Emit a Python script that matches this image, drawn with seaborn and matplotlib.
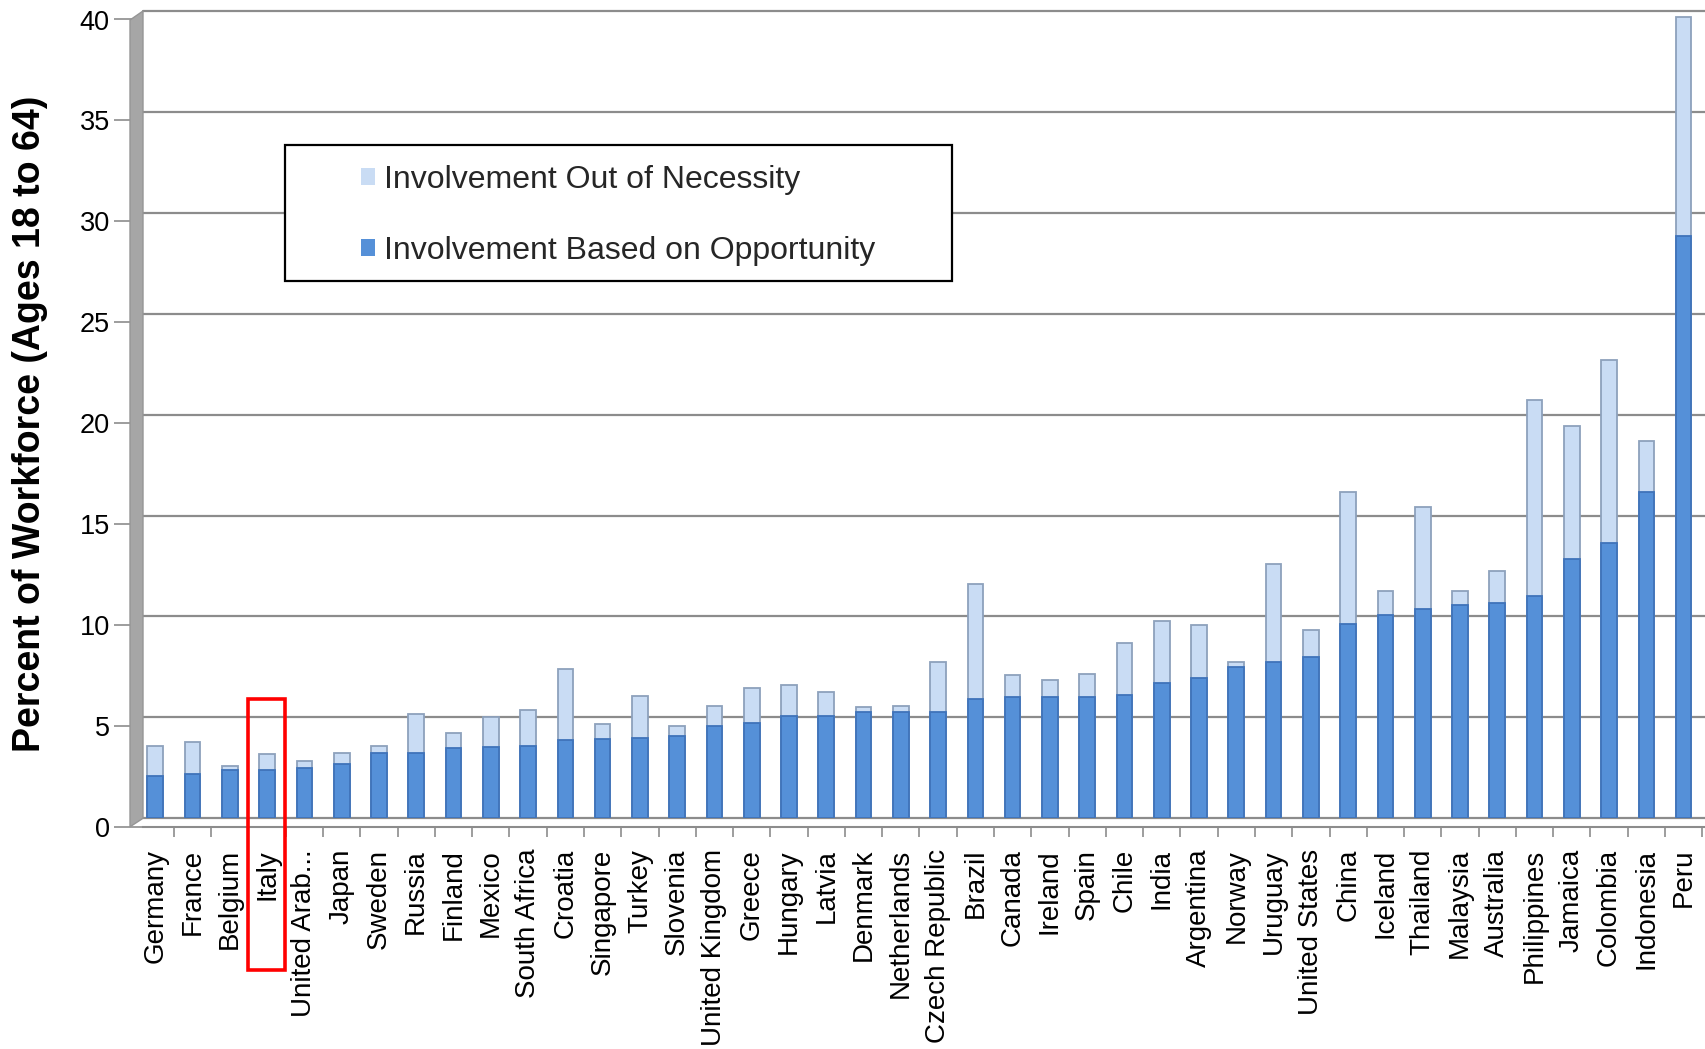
import matplotlib
matplotlib.use("Agg")
import matplotlib.pyplot as plt
from matplotlib.patches import Rectangle, Patch, Polygon
from matplotlib.ticker import FixedLocator
from matplotlib.transforms import ScaledTranslation
import seaborn as sns
import pandas as pd
import numpy as np

countries = ["Germany", "France", "Belgium", "Italy", "United Arab...", "Japan",
             "Sweden", "Russia", "Finland", "Mexico", "South Africa", "Croatia",
             "Singapore", "Turkey", "Slovenia", "United Kingdom", "Greece",
             "Hungary", "Latvia", "Denmark", "Netherlands", "Czech Republic",
             "Brazil", "Canada", "Ireland", "Spain", "Chile", "India",
             "Argentina", "Norway", "Uruguay", "United States", "China",
             "Iceland", "Thailand", "Malaysia", "Australia", "Philippines",
             "Jamaica", "Colombia", "Indonesia", "Peru"]

opportunity = [2.10, 2.20, 2.40, 2.40, 2.50, 2.70, 3.25, 3.25, 3.50, 3.55,
               3.60, 3.90, 3.95, 4.00, 4.08, 4.55, 4.72, 5.08, 5.08, 5.25,
               5.25, 5.28, 5.91, 5.99, 5.99, 5.99, 6.12, 6.70, 6.95, 7.52,
               7.72, 7.97, 9.65, 10.08, 10.36, 10.58, 10.66, 10.99, 12.87,
               13.66, 16.17, 28.86]

necessity = [1.47, 1.58, 0.20, 0.77, 0.34, 0.55, 0.32, 1.94, 0.72, 1.45,
             1.76, 3.52, 0.71, 2.04, 0.51, 1.03, 1.75, 1.52, 1.19, 0.26,
             0.33, 2.44, 5.72, 1.11, 0.87, 1.17, 2.58, 3.10, 2.65, 0.20,
             4.87, 1.35, 6.50, 1.16, 5.04, 0.66, 1.57, 9.72, 6.57, 9.05,
             2.53, 10.84]

series_labels = ["Involvement Out of Necessity", "Involvement Based on Opportunity"]
y_ticks = [0, 5, 10, 15, 20, 25, 30, 35, 40]
highlight = "Italy"

df = pd.DataFrame({"country": countries,
                   "opportunity": opportunity,
                   "necessity": necessity})
df["total"] = df["opportunity"] + df["necessity"]

dark_blue = "#5590D8"
light_blue = "#C9DCF4"
grid_grey = "#8C8C8C"
wall_grey = "#A6A6A6"

sns.set_theme(style="white")
plt.rcParams["font.family"] = ["Liberation Sans", "DejaVu Sans"]

W, H = 1706, 1049
fig = plt.figure(figsize=(W / 100, H / 100), dpi=100)
ax_left, ax_right, ax_top, ax_bottom = 143, 1706, 11, 818.3
ax_w = ax_right - ax_left
ax_h = ax_bottom - ax_top
ax = fig.add_axes([ax_left / W, 1 - ax_bottom / H, ax_w / W, ax_h / H])

# stacked columns: full height in the light colour, opportunity share over it
sns.barplot(data=df, x="country", y="total", color=light_blue, saturation=1,
            width=0.42, edgecolor="#8DA1BC", linewidth=1.3, ax=ax, zorder=3)
sns.barplot(data=df, x="country", y="opportunity", color=dark_blue, saturation=1,
            width=0.42, edgecolor="#3F73BA", linewidth=1.3, ax=ax, zorder=4)

ax.set_xlim(-0.33, len(countries) - 0.4)
ax.set_ylim(0, 40)
ax.set_xlabel("")
ax.set_ylabel("")

# back-wall gridlines
ax.yaxis.set_major_locator(FixedLocator(y_ticks))
ax.yaxis.grid(True, color=grid_grey, linewidth=1.6, zorder=0)
ax.xaxis.grid(False)
ax.set_axisbelow(True)
for gl in ax.get_ygridlines():
    gl.set_clip_on(False)

for s in ["top", "right", "left"]:
    ax.spines[s].set_visible(False)
# floor front edge sits a little below the back-wall zero line
ax.spines["bottom"].set_color(grid_grey)
ax.spines["bottom"].set_linewidth(1.5)
ax.spines["bottom"].set_position(("outward", 6.1))

ax.tick_params(axis="y", which="major", left=True, length=21, width=1.2,
               color=grid_grey, pad=3, labelsize=19.5, labelcolor="black")
ax.set_yticklabels([str(t) for t in y_ticks])
# ticks and numbers hang off the front edge of the side wall
front = ScaledTranslation(0, -8.5 / 100, fig.dpi_scale_trans)
for t in ax.yaxis.get_major_ticks():
    t.tick1line.set_transform(t.tick1line.get_transform() + front)
    t.label1.set_transform(t.label1.get_transform() + front)

ax.set_xticks(range(len(countries)))
ax.set_xticklabels(countries, rotation=90, ha="center", va="top",
                   fontsize=20, color="black")
ax.tick_params(axis="x", which="major", bottom=True, length=0, pad=16)
ax.xaxis.set_minor_locator(FixedLocator(np.arange(-0.5, len(countries), 1.0)))
ax.tick_params(axis="x", which="minor", bottom=True, length=7, width=1.2,
               color=grid_grey)

# grey side wall drawn in figure pixels as a slanted slab
def fpt(x, y):
    return (x / W, 1 - y / H)

wall = Polygon([fpt(130, 20), fpt(143, 11), fpt(143, 818.3), fpt(130, 826.8)],
               closed=True, transform=fig.transFigure, facecolor=wall_grey,
               edgecolor="#959595", linewidth=1.0, zorder=5)
fig.patches.append(wall)

fig.text(30 / W, 1 - 424 / H, "Percent of Workforce (Ages 18 to 64)",
         rotation=90, ha="center", va="center", fontsize=27,
         fontweight="bold", color="black")

# legend box
box = Rectangle(((285 - ax_left) / ax_w, (ax_bottom - 281) / ax_h),
                667 / ax_w, 136 / ax_h, transform=ax.transAxes,
                facecolor="white", edgecolor="black", linewidth=1.6,
                zorder=10, clip_on=False)
ax.add_patch(box)
handles = [Patch(facecolor=light_blue, edgecolor="none", label=series_labels[0]),
           Patch(facecolor=dark_blue, edgecolor="none", label=series_labels[1])]
leg = ax.legend(handles=handles, loc="center left", frameon=False,
                bbox_to_anchor=((361 - ax_left) / ax_w,
                                (ax_bottom - 215.5) / ax_h),
                borderpad=0, borderaxespad=0, handlelength=0.45,
                handleheight=0.45, handletextpad=0.28, labelspacing=1.29,
                fontsize=23)
leg.set_zorder(11)

# highlight frame around one country
i = countries.index(highlight)
frame = Rectangle((i - 0.51, (ax_bottom - 970) / ax_h), 1.0,
                  (970 - 698.5) / ax_h, transform=ax.get_xaxis_transform(),
                  facecolor="none", edgecolor="#FF0000", linewidth=2.6,
                  zorder=12, clip_on=False)
ax.add_patch(frame)

fig.savefig("out.png", dpi=100)
